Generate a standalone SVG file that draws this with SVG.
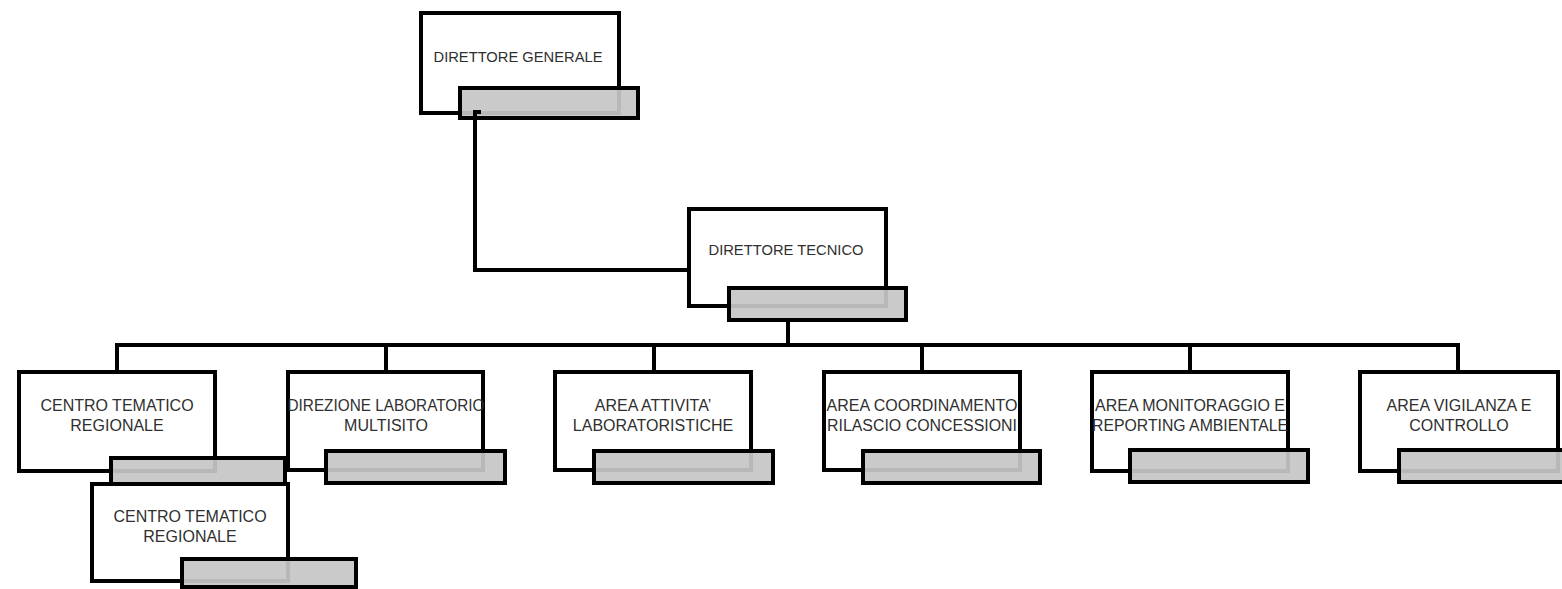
<svg xmlns="http://www.w3.org/2000/svg" width="1562" height="589" viewBox="0 0 1562 589">
  <style>
    .box { fill: #ffffff; stroke: #000000; stroke-width: 4; }
    .bar { fill: #c6c6c6; fill-opacity: 0.93; stroke: #000000; stroke-width: 4; }
    .lbl { font-family: "Liberation Sans", Arial, sans-serif; font-size: 16px; fill: #2f2f2f; text-anchor: middle; }
    .lbl.top { font-size: 15px; }
    .wire { fill: none; stroke: #000000; stroke-width: 4; }
  </style>
  <rect width="1562" height="589" fill="#ffffff"/>

  <!-- top level -->
  <g id="direttore-generale">
    <rect class="box" x="421" y="13" width="198" height="100"/>
    <rect class="bar" x="460" y="88" width="178" height="30"/>
    <text class="lbl top" x="518" y="62" textLength="169" lengthAdjust="spacingAndGlyphs">DIRETTORE GENERALE</text>
  </g>

  <g id="direttore-tecnico">
    <rect class="box" x="689" y="209" width="197" height="97"/>
    <rect class="bar" x="729" y="288" width="177" height="32"/>
    <text class="lbl top" x="786" y="255" textLength="155" lengthAdjust="spacingAndGlyphs">DIRETTORE TECNICO</text>
  </g>

  <!-- second level -->
  <g id="centro-tematico-1">
    <rect class="box" x="19" y="372" width="196" height="99"/>
    <rect class="bar" x="111" y="458" width="174" height="28"/>
    <text class="lbl" x="117" y="411">CENTRO TEMATICO</text>
    <text class="lbl" x="117" y="431">REGIONALE</text>
  </g>

  <g id="direzione-laboratorio">
    <rect class="box" x="288" y="372" width="195" height="98"/>
    <rect class="bar" x="326" y="451" width="179" height="32"/>
    <text class="lbl" x="386" y="411" textLength="197" lengthAdjust="spacingAndGlyphs">DIREZIONE LABORATORIO</text>
    <text class="lbl" x="386" y="431">MULTISITO</text>
  </g>

  <g id="area-attivita">
    <rect class="box" x="555" y="372" width="196" height="98"/>
    <rect class="bar" x="594" y="451" width="179" height="32"/>
    <text class="lbl" x="653" y="411">AREA ATTIVITA’</text>
    <text class="lbl" x="653" y="431">LABORATORISTICHE</text>
  </g>

  <g id="area-coordinamento">
    <rect class="box" x="824" y="372" width="196" height="98"/>
    <rect class="bar" x="863" y="451" width="177" height="32"/>
    <text class="lbl" x="922" y="411">AREA COORDINAMENTO</text>
    <text class="lbl" x="922" y="431" textLength="190" lengthAdjust="spacingAndGlyphs">RILASCIO CONCESSIONI</text>
  </g>

  <g id="area-monitoraggio">
    <rect class="box" x="1092" y="372" width="196" height="99"/>
    <rect class="bar" x="1130" y="450" width="178" height="32"/>
    <text class="lbl" x="1190" y="411">AREA MONITORAGGIO E</text>
    <text class="lbl" x="1190" y="431" textLength="196" lengthAdjust="spacingAndGlyphs">REPORTING AMBIENTALE</text>
  </g>

  <g id="area-vigilanza">
    <rect class="box" x="1360" y="372" width="198" height="99"/>
    <rect class="bar" x="1399" y="450" width="180" height="32"/>
    <text class="lbl" x="1459" y="411">AREA VIGILANZA E</text>
    <text class="lbl" x="1459" y="431">CONTROLLO</text>
  </g>

  <!-- third level -->
  <g id="centro-tematico-2">
    <rect class="box" x="92" y="484" width="196" height="97"/>
    <rect class="bar" x="182" y="559" width="174" height="28"/>
    <text class="lbl" x="190" y="522">CENTRO TEMATICO</text>
    <text class="lbl" x="190" y="542">REGIONALE</text>
  </g>

  <!-- connectors -->
  <g id="connectors">
    <path class="wire" d="M481,112 H475 V270 H687"/>
    <path class="wire" d="M788,322 V345"/>
    <path class="wire" d="M115,345 H1460"/>
    <path class="wire" d="M117,345 V370 M386,345 V370 M654,345 V370 M922,345 V370 M1190,345 V370 M1458,345 V370"/>
  </g>
</svg>
